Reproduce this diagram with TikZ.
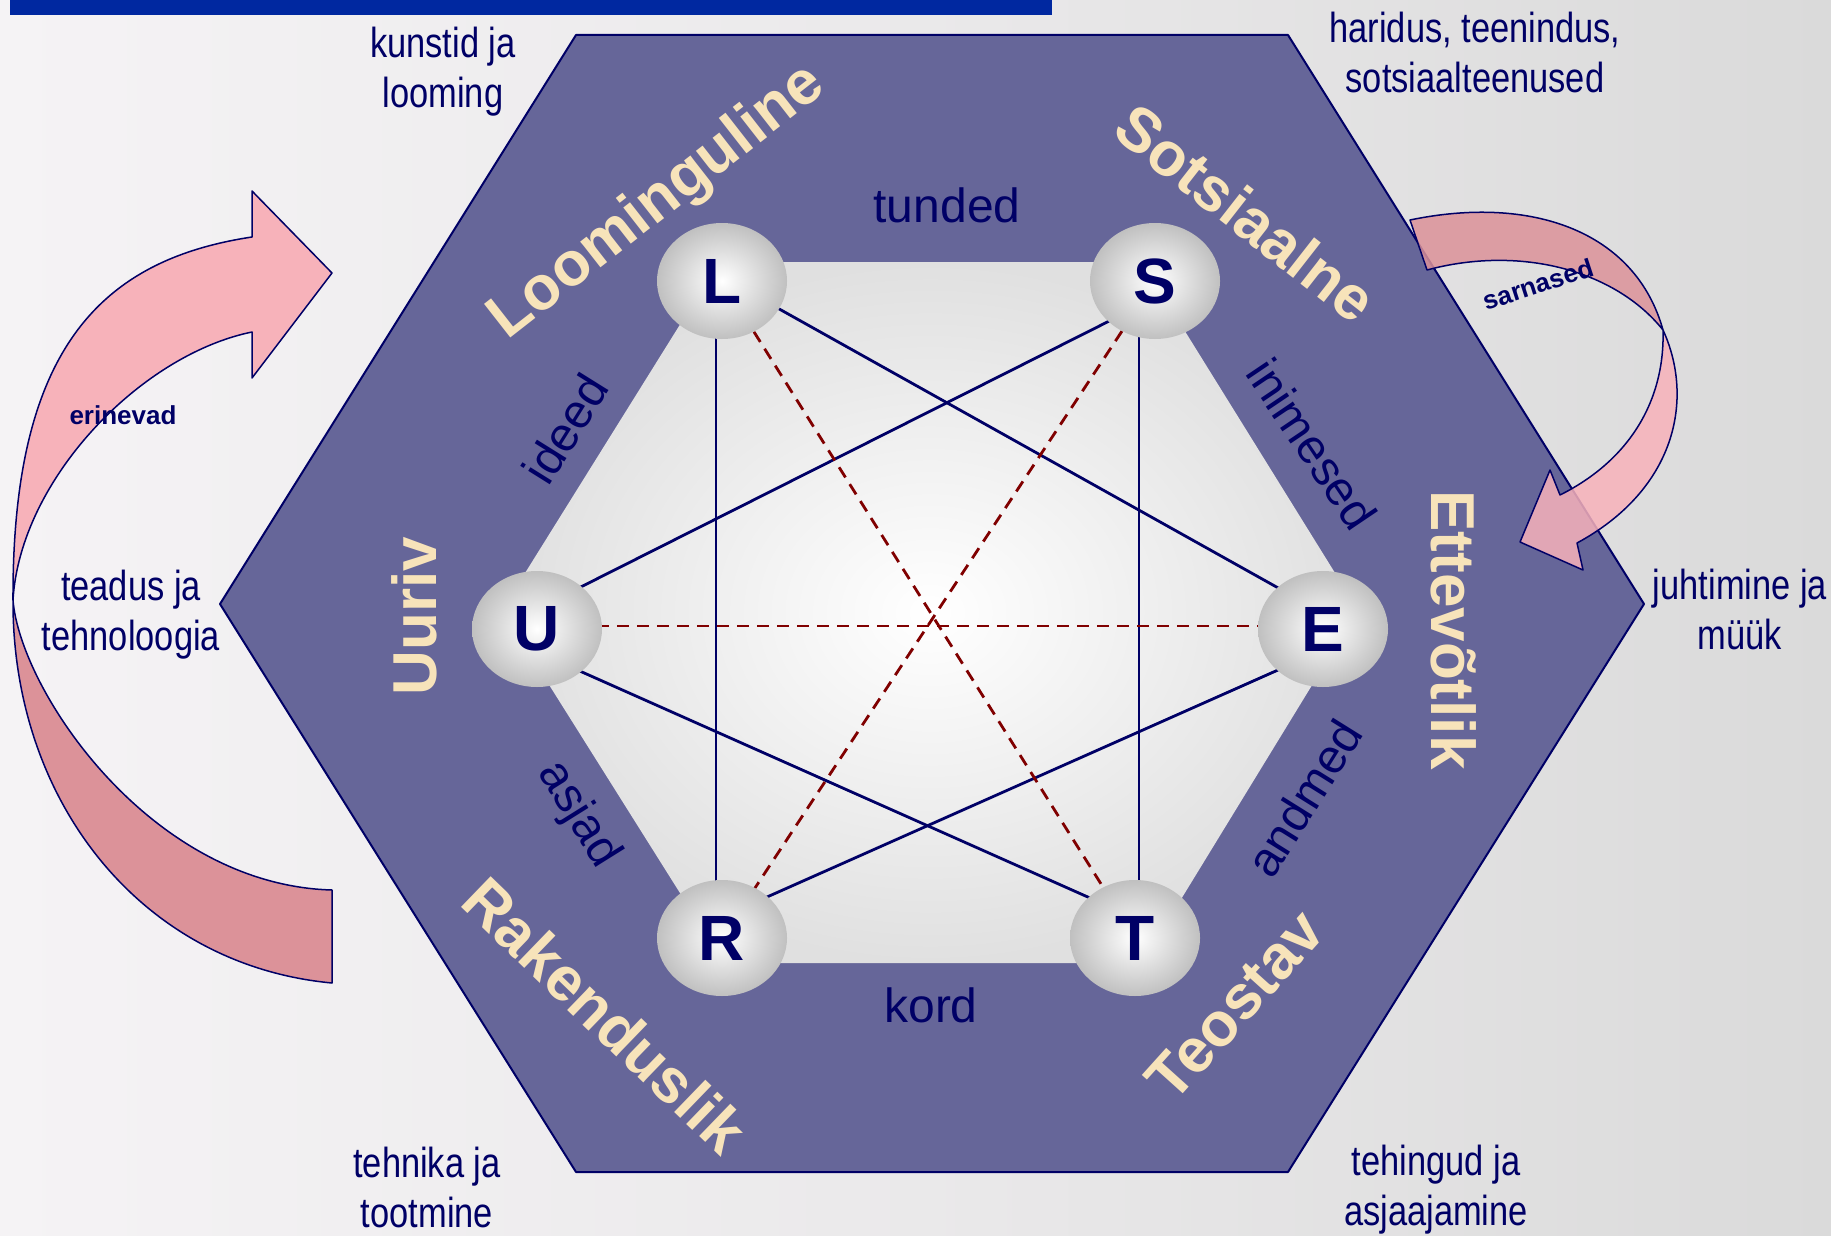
\documentclass[tikz,border=0pt]{standalone}
\usepackage{fontspec}
\setmainfont{Liberation Sans}
\newfontfamily\narrowf{Liberation Sans}[FakeStretch=0.82]
\usetikzlibrary{shapes.geometric,calc}
\definecolor{navy}{RGB}{0,0,102}
\definecolor{hexfill}{RGB}{102,102,153}
\definecolor{cream}{RGB}{247,227,186}
\definecolor{dred}{RGB}{128,0,0}
\definecolor{pinkL}{RGB}{247,178,186}
\definecolor{pinkD}{RGB}{220,146,153}
\definecolor{ballgray}{RGB}{192,192,192}
\definecolor{innergray}{RGB}{224,224,224}
\definecolor{barblue}{RGB}{0,40,160}
\definecolor{bgL}{RGB}{245,243,245}
\definecolor{bgR}{RGB}{218,218,218}
\begin{document}
\begin{tikzpicture}[x=1pt,y=-1pt,
 ballnode/.style={ellipse, minimum width=130pt, minimum height=116pt, inner sep=0pt,
   inner color=white, outer color=ballgray, text=navy,
   font=\bfseries\fontsize{64}{70}\selectfont},
 outerlbl/.style={align=center, text=navy, font=\narrowf\fontsize{42}{50}\selectfont, inner sep=0pt},
 innerlbl/.style={text=navy, font=\fontsize{48}{56}\selectfont, inner sep=0pt},
 catlbl/.style={text=cream, font=\bfseries\fontsize{62}{70}\selectfont, inner sep=0pt},
 arrowlbl/.style={text=navy, font=\bfseries\fontsize{26}{30}\selectfont, inner sep=0pt},
 arrowline/.style={draw=navy, line width=1.5pt, line join=round},
 solidlink/.style={draw=navy, line width=2.8pt},
 dashlink/.style={draw=dred, line width=2.8pt, dash pattern=on 12pt off 8pt},
 hexshape/.style={draw=navy, line width=2pt, fill=hexfill, line join=round},
]
\useasboundingbox (0,0) rectangle (1831,1236);
\shade[left color=bgL, right color=bgR, middle color=bgL!60!bgR] (0,0) rectangle (1831,1236);
\fill[barblue] (10,0) rectangle (1052,15);

% outer hexagon
\draw[hexshape] (576,35) -- (1288,35) -- (1644,604) -- (1288,1172) -- (576,1172) -- (220,604) -- cycle;
% inner hexagon
\shade[inner color=white, outer color=innergray]
  (719,262) -- (1142,262) -- (1358,610) -- (1142,963) -- (724,963) -- (502,610) -- cycle;

% ball positions
\coordinate (Lc) at (722,281);
\coordinate (Sc) at (1155,281);
\coordinate (Uc) at (537,629);
\coordinate (Ec) at (1323,629);
\coordinate (Rc) at (722,938);
\coordinate (Tc) at (1135,938);

% links
\draw[solidlink] ($(Lc)+(-6,0)$) -- ($(Rc)+(-6,0)$);
\draw[solidlink] ($(Sc)+(-16,0)$) -- ($(Tc)+(4,0)$);
\draw[solidlink] ($(Lc)+(0,-4)$) -- ($(Ec)+(0,-16)$);
\draw[solidlink] ($(Sc)+(0,17)$) -- ($(Uc)+(0,-20)$);
\draw[solidlink] ($(Uc)+(0,23)$) -- ($(Tc)+(0,-20)$);
\draw[solidlink] ($(Ec)+(0,21)$) -- ($(Rc)+(0,-21)$);
\draw[dashlink] (Lc) -- (Tc);
\draw[dashlink] (Sc) -- (Rc);
\draw[dashlink] ($(Uc)+(0,-3)$) -- ($(Ec)+(0,-3)$);

% balls
\node[ballnode] (L) at (Lc) {L};
\node[ballnode] (S) at (Sc) {S};
\node[ballnode] (U) at (Uc) {U};
\node[ballnode] (E) at (Ec) {E};
\node[ballnode] (R) at (Rc) {R};
\node[ballnode] (T) at (Tc) {T};

% inner labels
\node[innerlbl] (tunded) at (947,205) {tunded};
\node[innerlbl] (kord) at (931,1005) {kord};
\node[innerlbl, rotate=58] (ideed) at (565,429) {ideed};
\node[innerlbl, rotate=-56] (inimesed) at (1312,444) {inimesed};
\node[innerlbl, rotate=-58] (asjad) at (578,815) {asjad};
\node[innerlbl, rotate=58] (andmed) at (1304,798) {andmed};

% category labels
\node[catlbl, rotate=38] (loom) at (658,203) {Loominguline};
\node[catlbl, rotate=-38] (sots) at (1246,213) {Sotsiaalne};
\node[catlbl, rotate=90] (uuriv) at (414,616) {Uuriv};
\node[catlbl, rotate=-90] (ettev) at (1454,630) {Ettevõtlik};
\node[catlbl, rotate=-44] (rak) at (605,1015) {Rakenduslik};
\node[catlbl, rotate=48] (teost) at (1235,1005) {Teostav};

% outer labels
\node[outerlbl] (kunst) at (443,72) {kunstid ja\\looming};
\node[outerlbl] (harid) at (1475,52) {haridus, teenindus,\\sotsiaalteenused};
\node[outerlbl] (teadus) at (131,615) {teadus ja\\tehnoloogia};
\node[outerlbl] (juht) at (1740,609) {juhtimine ja\\müük};
\node[outerlbl] (tehnika) at (427,1187) {tehnika ja\\tootmine};
\node[outerlbl] (tehing) at (1436,1190) {tehingud ja\\asjaajamine};

% left curved arrow (erinevad)
\draw[arrowline, fill=pinkD] (13,600) .. controls (12,800) and (140,965) .. (332,983)
  -- (332,890) .. controls (150,885) and (20,690) .. (13,600) -- cycle;
\draw[arrowline, fill=pinkL] (252,237) .. controls (100,260) and (12,350) .. (13,600)
  .. controls (20,480) and (140,355) .. (252,332) -- (252,378) -- (332,273) -- (252,191) -- cycle;
\node[arrowlbl] (erin) at (123,415) {erinevad};

% right curved arrow (sarnased)
\draw[arrowline, fill=pinkD, fill opacity=0.85] (1410,220) .. controls (1530,195) and (1635,230) .. (1663,330)
  .. controls (1615,270) and (1520,245) .. (1427,270) -- cycle;
\draw[arrowline, fill=pinkL, fill opacity=0.85] (1663,330) .. controls (1695,400) and (1675,490) .. (1577,543)
  -- (1583,570) -- (1520,542) -- (1550,470) -- (1560,495)
  .. controls (1630,460) and (1665,400) .. (1663,330) -- cycle;
\node[arrowlbl, rotate=18] (sarn) at (1538,284) {sarnased};
\end{tikzpicture}
\end{document}
